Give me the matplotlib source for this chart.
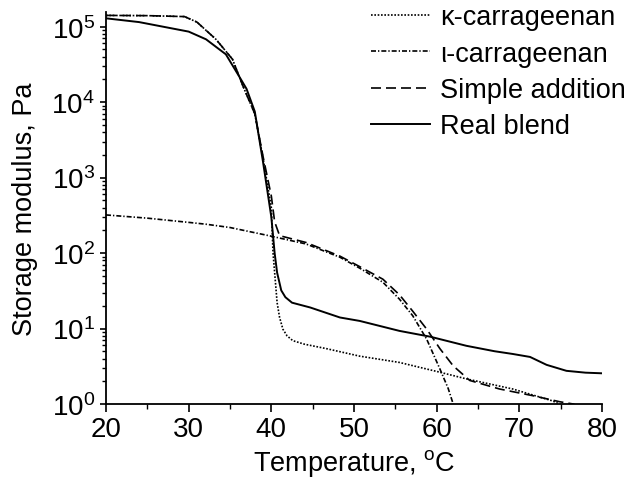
import numpy as np
import matplotlib
matplotlib.use("Agg")
import matplotlib.pyplot as plt

# %% Style
plt.rcParams.update(
    {
        "font.family": ["Liberation Sans", "DejaVu Sans"],
        "font.size": 19.5,
        "mathtext.fontset": "custom",
        "mathtext.rm": "Liberation Sans",
        "mathtext.it": "Liberation Sans:italic",
        "axes.linewidth": 1.3,
        "axes.spines.right": False,
        "axes.spines.top": False,
        "xtick.direction": "out",
        "ytick.direction": "out",
        "xtick.major.size": 5.5,
        "xtick.minor.size": 3.5,
        "ytick.major.size": 4.5,
        "ytick.minor.size": 3,
        "xtick.major.width": 1.2,
        "ytick.major.width": 1.2,
        "xtick.minor.width": 1.0,
        "ytick.minor.width": 1.0,
        "xtick.labelsize": 20,
        "ytick.labelsize": 20,
    }
)

# %% Data (temperature in C, storage modulus in Pa)
kappa_T = [20, 25, 29.5, 31, 33.3, 35.3, 36.6, 38, 39, 40, 40.2, 40.7, 41,
           41.4, 41.9, 42.6, 44, 46.7, 50.7, 55.5, 60, 63.6, 69.2, 74, 75, 77]
kappa_G = [1.41e5, 1.40e5, 1.36e5, 1.15e5, 6.8e4, 3.7e4, 1.6e4, 7.0e3, 1.8e3,
           400, 102, 22, 14, 9.8, 8.0, 6.9, 6.2, 5.4, 4.3, 3.55, 2.7, 2.15,
           1.58, 1.1, 0.98, 0.85]

iota_T = [20, 25, 30, 32.1, 35, 39.7, 44.2, 48.3, 50.7, 53.5, 55.5, 57.1, 58.8,
          60.4, 61.4, 62, 62.3]
iota_G = [320, 290, 255, 241, 218, 170, 132, 88, 63, 41, 24.5, 14.8, 7.2, 2.9,
          1.6, 1.0, 0.85]

simple_T = [20, 25, 29.5, 31, 33.3, 35.3, 36.6, 38, 39, 40, 40.4, 41, 44.2,
            48.3, 50.7, 53.5, 55.5, 57.1, 58.8, 60.4, 62, 64, 67.6, 71.6, 74.9,
            76.5, 77.5]
simple_G = [1.41e5, 1.40e5, 1.36e5, 1.15e5, 6.8e4, 3.7e4, 1.6e4, 7.0e3, 1.9e3,
            570, 260, 170, 138, 91, 66, 45, 28, 17, 9.8, 5.4, 3.2, 2.05, 1.58,
            1.29, 1.07, 1.0, 0.9]

blend_T = [20, 24, 27.3, 30, 32.1, 34.5, 36.1, 37, 38, 39, 40, 40.4, 40.7,
           41.2, 41.7, 42.5, 44.7, 48.3, 50.7, 55.5, 59.2, 63.6, 67, 69.2, 71.3,
           73.3, 75.7, 78, 80]
blend_G = [1.29e5, 1.15e5, 9.8e4, 8.6e4, 6.8e4, 4.3e4, 2.2e4, 1.5e4, 7.5e3,
           1.6e3, 300, 100, 55, 32, 26, 22, 19, 14, 12.6, 9.3, 7.8, 5.9, 5.0,
           4.6, 4.2, 3.3, 2.75, 2.6, 2.55]

labels = ["\u03ba-carrageenan", "\u03b9-carrageenan", "Simple addition", "Real blend"]

# %% Plot
fig = plt.figure(figsize=(6.31, 4.85), dpi=100)
ax = fig.add_axes([0.168, 0.165, 0.786, 0.808])

lw = 1.2
ax.plot(kappa_T, kappa_G, color="black", lw=lw, linestyle=(0, (1, 1)), label=labels[0])
ax.plot(iota_T, iota_G, color="black", lw=lw, linestyle=(0, (3, 1.2, 0.8, 1.2)), label=labels[1])
ax.plot(simple_T, simple_G, color="black", lw=lw, linestyle=(0, (6, 3)), label=labels[2])
ax.plot(blend_T, blend_G, color="black", lw=1.4, linestyle="-", label=labels[3])

ax.set_yscale("log")
ax.set_xlim(20, 80)
ax.set_ylim(1, 1.56e5)
ax.set_xticks([20, 30, 40, 50, 60, 70, 80])
ax.set_xticks([25, 35, 45, 55, 65, 75], minor=True)
ax.set_yticks([1, 10, 100, 1e3, 1e4, 1e5])

ax.set_xlabel("Temperature, $^{\\mathrm{o}}$C", labelpad=3)
ax.set_ylabel("Storage modulus, Pa", labelpad=10)

ax.legend(
    loc="upper right",
    bbox_to_anchor=(1.0, 1.0),
    bbox_transform=fig.transFigure,
    frameon=False,
    fontsize=19.5,
    handlelength=2.2,
    handletextpad=0.35,
    labelspacing=0.38,
    borderaxespad=0.0,
    borderpad=0.2,
)

fig.savefig("out.png", dpi=100)
